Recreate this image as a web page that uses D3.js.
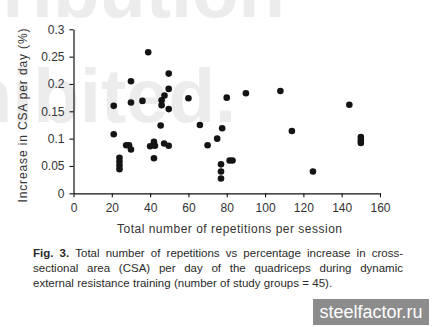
<!DOCTYPE html>
<html>
<head>
<meta charset="utf-8">
<script src="https://cdn.jsdelivr.net/npm/d3@7/dist/d3.min.js"></script>
<style>
  body { margin: 0; background: #fff; }
  svg { display: block; }
  text { font-family: "Liberation Sans", Arial, sans-serif; }
</style>
</head>
<body>
<svg id="chart" width="432" height="327"></svg>
<script>
// ---- data ----
const repetitions = [21, 21, 24, 24, 24, 24, 27.5, 29, 30, 30, 30, 36, 39, 40, 42, 42.5, 42,
  45.5, 46, 46, 47.5, 47.3, 49.7, 49.7, 49.7, 49.7, 60, 66, 70, 75, 77.6, 77, 77, 77,
  81.5, 83, 80, 90, 108, 114, 125, 144, 150, 150, 150];
const csaIncrease = [0.160, 0.108, 0.065, 0.058, 0.051, 0.044, 0.088, 0.088, 0.080, 0.166, 0.205,
  0.169, 0.258, 0.086, 0.094, 0.087, 0.064, 0.124, 0.170, 0.161, 0.179, 0.091, 0.219, 0.191,
  0.154, 0.087, 0.174, 0.125, 0.088, 0.100, 0.119, 0.053, 0.040, 0.027, 0.060, 0.060, 0.175,
  0.183, 0.187, 0.114, 0.040, 0.162, 0.103, 0.097, 0.092];
const xTicks = [0, 20, 40, 60, 80, 100, 120, 140, 160];
const yTicks = [0, 0.05, 0.1, 0.15, 0.2, 0.25, 0.3];
const yTickLabels = ["0", "0.05", "0.1", "0.15", "0.2", "0.25", "0.3"];
const xTitle = "Total number of repetitions per session";
const yTitle = "Increase in CSA per day (%)";
const captionLines = [
  [["Fig. 3.", true], ["Total number of repetitions vs percentage increase in cross-", false]],
  [["sectional area (CSA) per day of the quadriceps during dynamic", false]],
  [["external resistance training (number of study groups = 45).", false]]
];

const svg = d3.select("#chart");

// ---- watermark ----
const wm = svg.append("g").attr("fill", "#ececec")
  .style("font-weight", "bold").style("font-size", "76px");
wm.append("text").attr("x", 285).attr("y", 17).attr("text-anchor", "end").text("ribution");
wm.append("text").attr("x", 236).attr("y", 122).attr("text-anchor", "end").text("hibited.");

// ---- scales ----
const x = d3.scaleLinear().domain([0, 160]).range([73.5, 380]);
const y = d3.scaleLinear().domain([0, 0.3]).range([193.3, 29.3]);

// ---- axes ----
const xAxis = svg.append("g").attr("transform", `translate(0,${y(0)})`)
  .call(d3.axisBottom(x).tickValues(xTicks).tickSize(4).tickPadding(6).tickSizeOuter(0));
const yAxis = svg.append("g").attr("transform", `translate(${x(0)},0)`)
  .call(d3.axisLeft(y).tickValues(yTicks).tickSize(4).tickPadding(6).tickSizeOuter(0)
    .tickFormat((d, i) => yTickLabels[i]));
[xAxis, yAxis].forEach(g => {
  g.select(".domain").attr("stroke", "#111").attr("stroke-width", 1.2);
  g.selectAll(".tick line").attr("stroke", "#111").attr("stroke-width", 1.1);
  g.selectAll(".tick text").attr("fill", "#333")
    .style("font-family", "'Liberation Sans', Arial, sans-serif").style("font-size", "12px");
});
yAxis.selectAll(".tick text").attr("x", -9);

// axis titles
svg.append("text").attr("x", 229.5).attr("y", 233).attr("text-anchor", "middle")
  .attr("fill", "#333").style("font-size", "12px")
  .attr("textLength", 225).attr("lengthAdjust", "spacing").text(xTitle);
svg.append("text").attr("transform", "translate(27,115.5) rotate(-90)")
  .attr("text-anchor", "middle").attr("fill", "#333").style("font-size", "12px")
  .attr("textLength", 174).attr("lengthAdjust", "spacing").text(yTitle);

// ---- points ----
svg.append("g").selectAll("circle")
  .data(repetitions.map((r, i) => [r, csaIncrease[i]]))
  .join("circle")
  .attr("cx", d => x(d[0])).attr("cy", d => y(d[1]))
  .attr("r", 3.3).attr("fill", "#141414");

// ---- caption (justified lines 1 and 2) ----
const capLeft = 33, capRight = 403, capY0 = 257, capDy = 15;
captionLines.forEach((segs, li) => {
  const words = [];
  segs.forEach(([t, bold]) => t.split(" ").forEach(w => words.push([w, bold])));
  const txt = svg.append("text").attr("y", capY0 + li * capDy).attr("fill", "#2a2a2a")
    .style("font-size", "11.5px");
  const spans = words.map(([w, bold]) => txt.append("tspan").text(w)
    .style("font-weight", bold ? "bold" : "normal"));
  const widths = spans.map(s => s.node().getComputedTextLength());
  const total = d3.sum(widths);
  const justify = li < 2;
  const gap = justify ? (capRight - capLeft - total) / (words.length - 1) : 3.3;
  let cx = capLeft;
  spans.forEach((s, i) => { s.attr("x", cx); cx += widths[i] + gap; });
});

// ---- site badge ----
svg.append("rect").attr("x", 313).attr("y", 299).attr("width", 116).attr("height", 26)
  .attr("fill", "#8c8c8c");
svg.append("text").attr("x", 371).attr("y", 318).attr("text-anchor", "middle")
  .attr("fill", "#fff").style("font-size", "18px").text("steelfactor.ru");
</script>
</body>
</html>
